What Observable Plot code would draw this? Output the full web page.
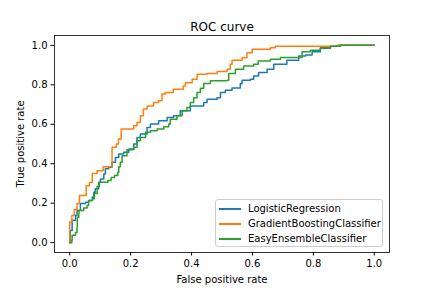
<!DOCTYPE html>
<html>
<head>
<meta charset="utf-8">
<script src="https://cdn.jsdelivr.net/npm/d3@7"></script>
<script src="https://cdn.jsdelivr.net/npm/@observablehq/plot@0.6"></script>
<style>
  html, body { margin: 0; padding: 0; background: #fff; }
  #wrap { position: relative; width: 432px; height: 288px; font-family: "DejaVu Sans", sans-serif; }
  #legend { position: absolute; left: 215px; top: 199px; width: 168px; height: 48px;
    border: 1px solid #cccccc; border-radius: 3px; background: rgba(255,255,255,0.8);
    font-size: 10px; color: #000; box-sizing: border-box; }
  .item { position: absolute; left: 0; height: 14px; line-height: 14px; white-space: nowrap; }
  .sw { position: absolute; left: 3px; top: 6px; width: 22px; height: 2px; }
  .lb { position: absolute; left: 32px; top: 0; }
</style>
</head>
<body>
<div id="wrap"></div>
<script>
const title = "ROC curve";
const xLabel = "False positive rate";
const yLabel = "True positive rate";
const seriesNames = ["LogisticRegression", "GradientBoostingClassifier", "EasyEnsembleClassifier"];
const seriesColors = ["#1f77b4", "#ff7f0e", "#2ca02c"];
const tickValues = [0, 0.2, 0.4, 0.6, 0.8, 1.0];

const fprLR = [0, 0.002, 0.008, 0.019, 0.024, 0.035, 0.052, 0.062, 0.074, 0.079, 0.084, 0.095, 0.101, 0.112, 0.117, 0.128, 0.139, 0.15, 0.161, 0.177, 0.194, 0.21, 0.221, 0.232, 0.254, 0.265, 0.292, 0.32, 0.341, 0.363, 0.396, 0.44, 0.451, 0.484, 0.495, 0.511, 0.533, 0.56, 0.566, 0.593, 0.604, 0.62, 0.648, 0.67, 0.713, 0.752, 0.774, 0.796, 0.823, 0.856, 0.882, 1.0];
const tprLR = [0, 0.062, 0.113, 0.138, 0.163, 0.198, 0.205, 0.214, 0.23, 0.256, 0.273, 0.306, 0.323, 0.348, 0.374, 0.382, 0.407, 0.432, 0.449, 0.458, 0.475, 0.50, 0.533, 0.551, 0.584, 0.601, 0.618, 0.634, 0.643, 0.668, 0.693, 0.71, 0.727, 0.735, 0.761, 0.773, 0.784, 0.805, 0.823, 0.828, 0.845, 0.862, 0.879, 0.904, 0.924, 0.946, 0.951, 0.968, 0.985, 0.996, 1.0, 1.0];

const fprGB = [0, 0.0, 0.007, 0.015, 0.024, 0.032, 0.054, 0.065, 0.074, 0.09, 0.11, 0.139, 0.139, 0.153, 0.16, 0.169, 0.21, 0.221, 0.232, 0.242, 0.254, 0.275, 0.291, 0.303, 0.314, 0.34, 0.373, 0.38, 0.402, 0.418, 0.451, 0.484, 0.517, 0.527, 0.533, 0.566, 0.582, 0.599, 0.659, 0.675, 0.882, 1.0];
const tprGB = [0, 0.104, 0.138, 0.168, 0.198, 0.239, 0.289, 0.305, 0.35, 0.365, 0.385, 0.416, 0.483, 0.50, 0.525, 0.576, 0.592, 0.609, 0.643, 0.678, 0.693, 0.71, 0.719, 0.753, 0.761, 0.778, 0.794, 0.811, 0.828, 0.854, 0.857, 0.867, 0.879, 0.904, 0.924, 0.937, 0.963, 0.98, 0.988, 0.996, 1.0, 1.0];

const fprEE = [0, 0.007, 0.008, 0.019, 0.024, 0.025, 0.03, 0.046, 0.057, 0.062, 0.075, 0.081, 0.09, 0.097, 0.125, 0.136, 0.147, 0.158, 0.161, 0.166, 0.172, 0.188, 0.21, 0.221, 0.232, 0.249, 0.265, 0.287, 0.309, 0.325, 0.33, 0.352, 0.369, 0.385, 0.396, 0.407, 0.418, 0.429, 0.44, 0.462, 0.517, 0.522, 0.544, 0.571, 0.604, 0.619, 0.659, 0.692, 0.763, 0.763, 0.79, 0.823, 0.856, 0.889, 1.0];
const tprEE = [0, 0.012, 0.037, 0.052, 0.079, 0.129, 0.163, 0.176, 0.188, 0.214, 0.222, 0.249, 0.284, 0.306, 0.315, 0.33, 0.34, 0.357, 0.385, 0.407, 0.441, 0.471, 0.483, 0.517, 0.533, 0.559, 0.567, 0.576, 0.587, 0.601, 0.626, 0.643, 0.668, 0.685, 0.71, 0.735, 0.761, 0.782, 0.807, 0.82, 0.823, 0.857, 0.879, 0.895, 0.904, 0.921, 0.929, 0.939, 0.947, 0.968, 0.975, 0.988, 0.996, 1.0, 1.0];

const seriesData = [[fprLR, tprLR], [fprGB, tprGB], [fprEE, tprEE]];
const data = [];
seriesData.forEach(([xs, ys], i) => {
  xs.forEach((x, j) => data.push({series: seriesNames[i], fpr: x, tpr: ys[j]}));
});

const chart = Plot.plot({
  width: 432,
  height: 288,
  marginLeft: 54,
  marginRight: 43,
  marginTop: 35,
  marginBottom: 36,
  style: {fontFamily: "DejaVu Sans, sans-serif", fontSize: "10px", color: "#000", background: "#fff"},
  x: {domain: [-0.05, 1.05], ticks: tickValues, tickFormat: d3.format(".1f")},
  y: {domain: [-0.05, 1.05], ticks: tickValues, tickFormat: d3.format(".1f")},
  color: {domain: seriesNames, range: seriesColors},
  marks: [
    Plot.axisX({ticks: tickValues, tickFormat: d3.format(".1f"), tickSize: 3.5, tickPadding: 3.5, label: xLabel, labelAnchor: "center", labelOffset: 30, labelArrow: "none", fontSize: 10}),
    Plot.axisY({ticks: tickValues, tickFormat: d3.format(".1f"), tickSize: 3.5, tickPadding: 3.5, label: yLabel, labelAnchor: "center", labelOffset: 38, labelArrow: "none", fontSize: 10}),
    ...seriesNames.map(name => Plot.line(data.filter(d => d.series === name), {x: "fpr", y: "tpr", stroke: "series", strokeWidth: 1.5, curve: "step-after"})),
    Plot.frame({stroke: "#000", strokeWidth: 0.8}),
    Plot.text([title], {frameAnchor: "top", dy: -13, fontSize: 12, fill: "#000"})
  ]
});
const wrap = document.getElementById("wrap");
wrap.appendChild(chart);

const legend = document.createElement("div");
legend.id = "legend";
seriesNames.forEach((name, i) => {
  const item = document.createElement("div");
  item.className = "item";
  item.style.top = (1.5 + i * 15.3) + "px";
  item.innerHTML = `<div class="sw" style="background:${seriesColors[i]}"></div><div class="lb">${name}</div>`;
  legend.appendChild(item);
});
wrap.appendChild(legend);
</script>
</body>
</html>
